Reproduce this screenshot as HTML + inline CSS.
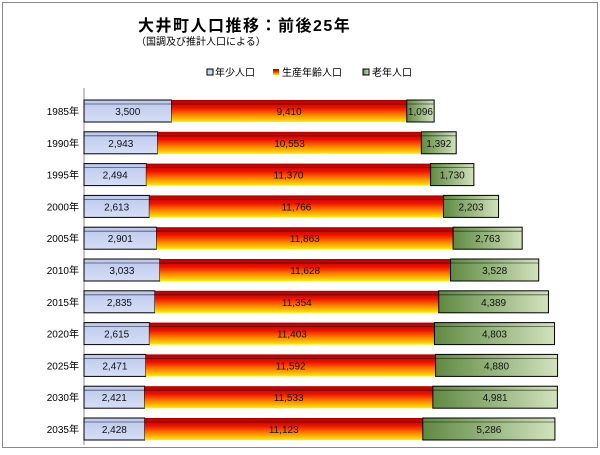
<!DOCTYPE html>
<html><head><meta charset="utf-8"><style>
body{margin:0;background:#fff;font-family:"Liberation Sans","Noto Sans CJK JP",sans-serif}
svg text{font-family:"Liberation Sans","Noto Sans CJK JP",sans-serif}
</style></head><body>
<svg width="600" height="450">
<defs>
<linearGradient id="gr" x1="0" y1="0" x2="0" y2="1"><stop offset="0" stop-color="#b00000"/><stop offset="0.35" stop-color="#ee1000"/><stop offset="0.7" stop-color="#ff8a00"/><stop offset="1" stop-color="#ffee00"/></linearGradient>
<linearGradient id="gg" x1="0" y1="0" x2="1" y2="0"><stop offset="0" stop-color="#5f8a42"/><stop offset="1" stop-color="#d2e2bd"/></linearGradient>
<linearGradient id="gb" x1="0" y1="0" x2="0" y2="1"><stop offset="0" stop-color="#bcc9ee"/><stop offset="1" stop-color="#d6def6"/></linearGradient>
</defs>
<rect x="2.5" y="2.5" width="595" height="445" fill="#fff" stroke="#888"/>
<text x="138" y="31" font-size="16" font-weight="bold" letter-spacing="1.5">大井町人口推移：前後25年</text>
<text x="136" y="45" font-size="10">（国調及び推計人口による）</text>
<g font-size="10">
<rect x="207" y="69" width="6" height="6" fill="url(#gb)" stroke="#000"/><text x="215" y="76">年少人口</text>
<rect x="273" y="69" width="6" height="6" fill="url(#gr)"/><text x="282" y="76">生産年齢人口</text>
<rect x="363" y="69" width="6" height="6" fill="url(#gg)" stroke="#000"/><text x="372" y="76">老年人口</text>
</g>
<line x1="84" y1="88" x2="84" y2="445" stroke="#888"/>
<g id="bars"></g>
</svg>
<script>
const years=["1985年","1990年","1995年","2000年","2005年","2010年","2015年","2020年","2025年","2030年","2035年"];
const young=[3500,2943,2494,2613,2901,3033,2835,2615,2471,2421,2428];
const working=[9410,10553,11370,11766,11863,11628,11354,11403,11592,11533,11123];
const elderly=[1096,1392,1730,2203,2763,3528,4389,4803,4880,4981,5286];
const g=document.getElementById('bars');
const NS='http://www.w3.org/2000/svg';
const x=v=>84+v/40;
const yc=i=>111+i*31.8;
function mk(t,a){const e=document.createElementNS(NS,t);for(const k in a)e.setAttribute(k,a[k]);g.appendChild(e);return e;}
years.forEach((yr,i)=>{
 const c=yc(i);
 const t=mk('text',{x:79,y:c+4,'font-size':10,'text-anchor':'end'});t.textContent=yr;
 
 
 const segs=[[young[i],'url(#gb)','young'],[working[i],'url(#gr)','working'],[elderly[i],'url(#gg)','elderly']];
 let acc=0;
 segs.forEach(([v,f,n])=>{
  const x0=x(acc),x1=x(acc+v);
  const r=mk('rect',{x:x0,y:c-11,width:x1-x0,height:22,fill:f,stroke:n==='working'?'none':'#000','stroke-width':1});
  
  
  mk('line',{x1:x0,y1:c-7,x2:x1,y2:c-7,stroke:'#000','stroke-width':0.8,opacity:0.6});
  const l=mk('text',{x:(x0+x1)/2,y:c+4,'font-size':10,'text-anchor':'middle',fill:'#111'});
  l.textContent=v.toLocaleString('en-US');
  
  
  acc+=v;
 });
});
</script>
</body></html>
